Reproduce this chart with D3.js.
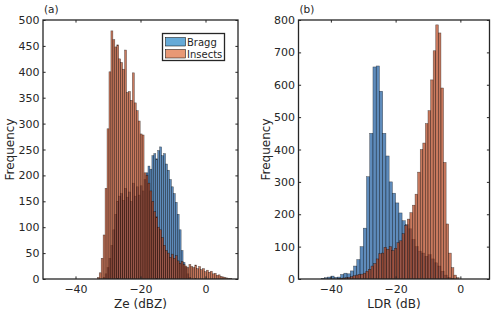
<!DOCTYPE html>
<html><head><meta charset="utf-8">
<script src="https://cdn.jsdelivr.net/npm/d3@7"></script>
<style>
body{margin:0;background:#fff}
text{font-family:"DejaVu Sans",sans-serif;fill:#262626}
</style>
</head><body>
<svg id="chart" width="500" height="314"></svg>
<script>
// ---------- DATA ----------
// Panel (a): Ze histograms, bin width 0.6 dBZ
const zeInsectsStart = -33.3;
const zeBinWidth = 0.6;
const zeInsects = [3,12,40,85,175,290,400,479,462,448,452,425,418,405,442,360,362,345,398,340,
  325,305,280,278,205,200,185,170,150,130,120,100,95,80,65,55,50,42,48,40,
  45,35,30,34,28,25,22,28,24,22,27,20,24,18,20,14,17,13,15,10,
  11,7,8,5,4,3,2,1,1];
const zeBraggStart = -31.5;
const zeBragg = [3,10,22,40,65,95,125,150,160,165,152,175,158,168,150,185,160,178,162,180,
  170,192,205,218,212,238,242,232,248,255,238,242,222,210,192,178,165,148,125,95,
  55,32,22,10,3];
// Panel (b): LDR histograms
const ldrBraggStart = -43;
const ldrBraggWidth = 1;
const ldrBragg = [2,4,6,9,5,6,14,18,16,25,40,60,100,157,316,450,655,658,580,450,
  380,300,265,235,204,180,168,155,122,100,86,80,70,75,62,50,40,24,12,5,2];
const ldrInsectsStart = -38;
const ldrInsectsWidth = 0.8;
const ldrInsects = [1,2,3,4,5,7,10,12,14,15,18,24,30,40,48,62,78,80,98,92,
  100,88,95,112,118,140,165,185,205,228,262,330,400,420,480,520,615,705,785,760,
  590,360,170,80,35,12,4];
const seriesNames = ["Bragg","Insects"];
const legendColors = ["#0072BD","#D95319"];
const barColors = ["#1A5A9E","#B0401A"];
const xTicks = [-40,-20,0];
const zeYTicks = [0,50,100,150,200,250,300,350,400,450,500];
const ldrYTicks = [0,100,200,300,400,500,600,700,800];

// ---------- DRAW ----------
const svg = d3.select("#chart");
const TICK = 2.6;

function panel(opts){
  const {x0,x1,y0,y1,xDomain,yDomain,yTicks,hists,xLabel,yLabelX,tag,id} = opts;
  const x = d3.scaleLinear().domain(xDomain).range([x0,x1]);
  const y = d3.scaleLinear().domain(yDomain).range([y1,y0]);
  const g = svg.append("g");
  g.append("clipPath").attr("id",id).append("rect")
    .attr("x",x0).attr("y",y0).attr("width",x1-x0).attr("height",y1-y0);
  const bars = g.append("g").attr("clip-path",`url(#${id})`);
  hists.forEach(h=>{
    const d = h.vals.map((v,i)=>({a:h.start+i*h.w, b:h.start+(i+1)*h.w, v}));
    bars.append("g").selectAll("rect").data(d).join("rect")
      .attr("x",e=>x(e.a)).attr("width",e=>x(e.b)-x(e.a))
      .attr("y",e=>y(e.v)).attr("height",e=>y(0)-y(e.v))
      .attr("fill",h.color).attr("fill-opacity",0.7)
      .attr("stroke","#000").attr("stroke-width",0.5).attr("stroke-opacity",0.6);
  });
  // axes
  const ax = g.append("g").attr("transform",`translate(0,${y1})`)
    .call(d3.axisBottom(x).tickValues(xTicks).tickSizeInner(-TICK).tickSizeOuter(0).tickPadding(6));
  const axTop = g.append("g").attr("transform",`translate(0,${y0})`)
    .call(d3.axisTop(x).tickValues(xTicks).tickSizeInner(-TICK).tickSizeOuter(0).tickFormat(""));
  const ay = g.append("g").attr("transform",`translate(${x0},0)`)
    .call(d3.axisLeft(y).tickValues(yTicks).tickSizeInner(-TICK).tickSizeOuter(0).tickPadding(3.5));
  const ayR = g.append("g").attr("transform",`translate(${x1},0)`)
    .call(d3.axisRight(y).tickValues(yTicks).tickSizeInner(-TICK).tickSizeOuter(0).tickFormat(""));
  [ax,axTop,ay,ayR].forEach(a=>{
    a.select(".domain").remove();
    a.selectAll("line").attr("stroke","#262626").attr("stroke-width",1);
    a.selectAll("text").attr("font-size",11).attr("fill","#262626").style("font-family",'"DejaVu Sans",sans-serif');
  });
  g.append("rect").attr("x",x0).attr("y",y0).attr("width",x1-x0).attr("height",y1-y0)
    .attr("fill","none").attr("stroke","#262626").attr("stroke-width",1.3);
  g.append("text").attr("x",(x0+x1)/2).attr("y",308).attr("text-anchor","middle")
    .attr("font-size",12).text(xLabel);
  g.append("text").attr("transform",`translate(${yLabelX},${(y0+y1)/2}) rotate(-90)`)
    .attr("text-anchor","middle").attr("font-size",12).text("Frequency");
  g.append("text").attr("x",x0+1).attr("y",13).attr("font-size",10.5).text(tag);
  return {x,y,g};
}

const A = panel({x0:43,x1:238,y0:20,y1:279,xDomain:[-50,10],yDomain:[0,500],yTicks:zeYTicks,
  hists:[{start:zeBraggStart,w:zeBinWidth,vals:zeBragg,color:barColors[0]},
         {start:zeInsectsStart,w:zeBinWidth,vals:zeInsects,color:barColors[1]}],
  xLabel:"Ze (dBZ)",yLabelX:14,tag:"(a)",id:"clipA"});
const B = panel({x0:298.5,x1:489.5,y0:20,y1:279,xDomain:[-50,9],yDomain:[0,800],yTicks:ldrYTicks,
  hists:[{start:ldrBraggStart,w:ldrBraggWidth,vals:ldrBragg,color:barColors[0]},
         {start:ldrInsectsStart,w:ldrInsectsWidth,vals:ldrInsects,color:barColors[1]}],
  xLabel:"LDR (dB)",yLabelX:270,tag:"(b)",id:"clipB"});

// legend in panel (a)
const lg = svg.append("g");
lg.append("rect").attr("x",162.5).attr("y",33.5).attr("width",62).attr("height",27)
  .attr("fill","#fff").attr("stroke","#262626").attr("stroke-width",1.3);
seriesNames.forEach((n,i)=>{
  lg.append("rect").attr("x",165.5).attr("y",37.5+i*12).attr("width",20).attr("height",8.5)
    .attr("fill",legendColors[i]).attr("fill-opacity",0.6).attr("stroke","#000").attr("stroke-width",0.5);
  lg.append("text").attr("x",187).attr("y",45.5+i*12).attr("font-size",10).text(n);
});
</script>
</body></html>
